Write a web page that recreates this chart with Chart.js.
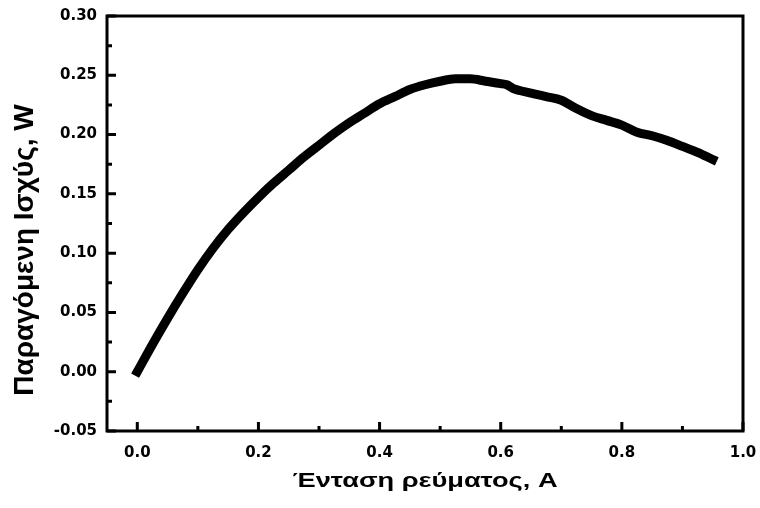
<!DOCTYPE html>
<html lang="el">
<head>
  <meta charset="UTF-8">
  <title>Παραγόμενη Ισχύς</title>
  <script src="https://cdn.jsdelivr.net/npm/chart.js"></script>
  <style>
    html, body { margin: 0; padding: 0; background: #fff; }
    #wrap { position: absolute; left: 0; top: 0; width: 760px; height: 508px; }
  </style>
</head>
<body>
  <div id="wrap"><canvas id="myChart"></canvas></div>
  <script>
    // ρεύμα (A) και ισχύς (W)
    const current = [0.000, 0.025, 0.050, 0.075, 0.100, 0.125, 0.150, 0.175, 0.200, 0.225,
                     0.250, 0.275, 0.300, 0.325, 0.350, 0.375, 0.400, 0.425, 0.450, 0.475,
                     0.500, 0.525, 0.550, 0.575, 0.600, 0.610, 0.620, 0.650, 0.675, 0.700,
                     0.725, 0.750, 0.775, 0.800, 0.825, 0.850, 0.875, 0.900, 0.925, 0.950];
    const power   = [0.000, 0.023, 0.045, 0.066, 0.086, 0.104, 0.120, 0.134, 0.147, 0.159,
                     0.170, 0.181, 0.191, 0.201, 0.210, 0.218, 0.226, 0.232, 0.238, 0.242,
                     0.245, 0.247, 0.247, 0.245, 0.243, 0.242, 0.239, 0.235, 0.232, 0.229,
                     0.222, 0.216, 0.212, 0.208, 0.202, 0.199, 0.195, 0.190, 0.185, 0.179];

    const xTicks = [0.0, 0.2, 0.4, 0.6, 0.8, 1.0];
    const xMinor = [0.1, 0.3, 0.5, 0.7, 0.9];
    const yTicks = [-0.05, 0.00, 0.05, 0.10, 0.15, 0.20, 0.25, 0.30];
    const yMinor = [-0.025, 0.025, 0.075, 0.125, 0.175, 0.225, 0.275];

    const yTitle = 'Παραγόμενη Ισχύς, W';
    const xTitle = 'Ένταση ρεύματος, A';

    const TICK_FONT = "'DejaVu Sans', sans-serif";
    const TITLE_FONT = "'Liberation Sans', Arial, sans-serif";

    // πλαίσιο, εσωτερικές υποδιαιρέσεις και τίτλοι αξόνων
    const frame = {
      id: 'frame',
      afterDatasetsDraw(chart) {
        const { ctx, chartArea: a, scales: { x, y } } = chart;
        ctx.save();
        ctx.strokeStyle = '#000';
        ctx.lineWidth = 3;
        ctx.lineCap = 'square';
        ctx.beginPath();
        ctx.rect(a.left, a.top, a.right - a.left, a.bottom - a.top);
        ctx.stroke();
        ctx.lineCap = 'butt';
        ctx.beginPath();
        xTicks.forEach(v => { const p = x.getPixelForValue(v); ctx.moveTo(p, a.bottom); ctx.lineTo(p, a.bottom - 9); });
        xMinor.forEach(v => { const p = x.getPixelForValue(v); ctx.moveTo(p, a.bottom); ctx.lineTo(p, a.bottom - 5); });
        yTicks.forEach(v => { const p = y.getPixelForValue(v); ctx.moveTo(a.left, p); ctx.lineTo(a.left + 9, p); });
        yMinor.forEach(v => { const p = y.getPixelForValue(v); ctx.moveTo(a.left, p); ctx.lineTo(a.left + 5, p); });
        ctx.stroke();

        ctx.fillStyle = '#000';
        ctx.textAlign = 'center';
        ctx.textBaseline = 'alphabetic';

        // οριζόντιος τίτλος, λίγο πλατύτερος
        ctx.save();
        ctx.translate((a.left + a.right) / 2, 487);
        ctx.scale(1.36, 1);
        ctx.font = 'bold 20px ' + TITLE_FONT;
        ctx.fillText(xTitle, 0, 0);
        ctx.restore();

        // κάθετος τίτλος
        ctx.translate(33, 250);
        ctx.rotate(-Math.PI / 2);
        ctx.font = 'bold 28px ' + TITLE_FONT;
        ctx.fillText(yTitle, 0, 0);
        ctx.restore();
      }
    };

    const ctx = document.getElementById('myChart').getContext('2d');
    new Chart(ctx, {
      type: 'scatter',
      data: {
        datasets: [{
          data: current.map((v, i) => ({ x: v, y: power[i] })),
          showLine: true,
          borderColor: '#000',
          backgroundColor: '#000',
          borderWidth: 9,
          borderCapStyle: 'square',
          borderJoinStyle: 'round',
          cubicInterpolationMode: 'monotone',
          pointRadius: 0,
          pointHoverRadius: 0
        }]
      },
      plugins: [frame],
      options: {
        responsive: true,
        maintainAspectRatio: false,
        animation: false,
        layout: { padding: { top: 16, right: 17, left: 0, bottom: 0 } },
        plugins: { legend: { display: false }, tooltip: { enabled: false } },
        scales: {
          x: {
            type: 'linear',
            min: -0.05,
            max: 1.0,
            afterBuildTicks: s => { s.ticks = xTicks.map(v => ({ value: v })); },
            afterFit: s => { s.height = 77; s.paddingLeft = 0; s.paddingRight = 0; },
            grid: { display: false, drawTicks: false },
            border: { display: false },
            ticks: {
              padding: 13,
              color: '#000',
              font: { family: TICK_FONT, size: 15, weight: 'bold' },
              callback: v => v.toFixed(1)
            },
            title: { display: false }
          },
          y: {
            type: 'linear',
            min: -0.05,
            max: 0.30,
            afterBuildTicks: s => { s.ticks = yTicks.map(v => ({ value: v })); },
            afterFit: s => { s.width = 107; s.paddingTop = 0; s.paddingBottom = 0; },
            grid: { display: false, drawTicks: false },
            border: { display: false },
            ticks: {
              padding: 10,
              color: '#000',
              font: { family: TICK_FONT, size: 15, weight: 'bold' },
              callback: v => v.toFixed(2)
            },
            title: { display: false }
          }
        }
      }
    });
  </script>
</body>
</html>
